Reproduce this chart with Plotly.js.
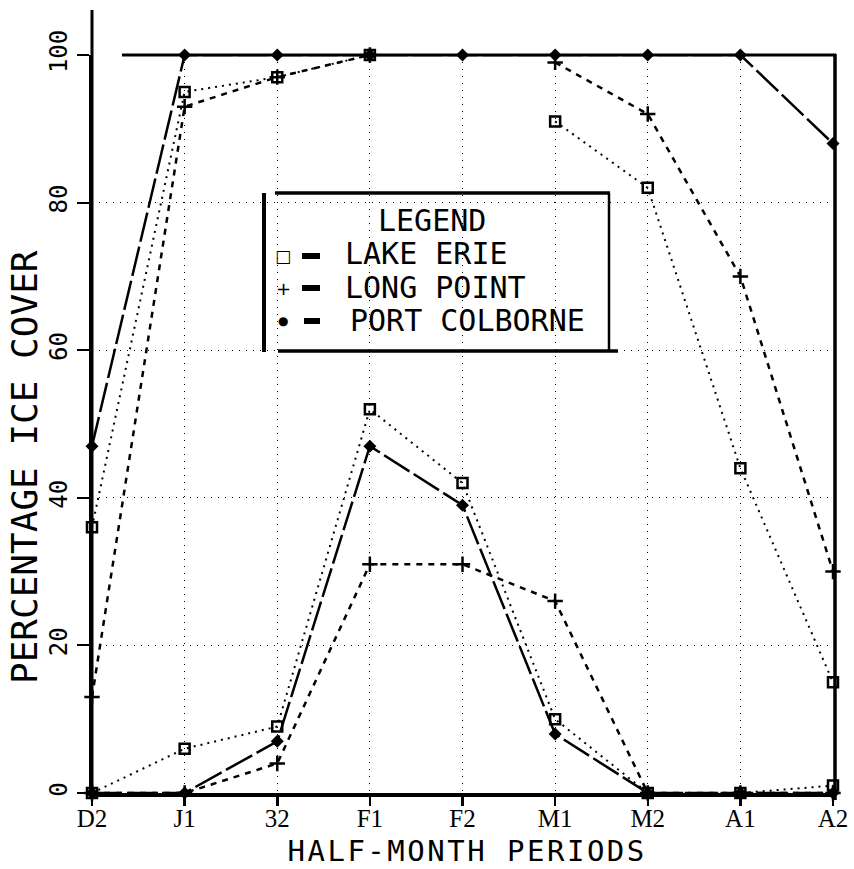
<!DOCTYPE html>
<html>
<head>
<meta charset="utf-8">
<script src="https://cdn.plot.ly/plotly-3.0.1.min.js"></script>
<style>
html,body{margin:0;padding:0;background:#fff;}
#chart{width:854px;height:869px;}
</style>
</head>
<body>
<div id="chart"></div>
<script>
// ---- data ----
const categories = ['D2', 'J1', '32', 'F1', 'F2', 'M1', 'M2', 'A1', 'A2'];
const yTickValues = [0, 20, 40, 60, 80, 100];
const yTickLabels = ['0', '20', '40', '60', '80', '100'];

// lower group of curves
const lakeErieLow     = [0, 6, 9, 52, 42, 10, 0, 0, 1];
const longPointLow    = [0, 0, 4, 31, 31, 26, 0, 0, 0];
const portColborneLow = [0, 0, 7, 47, 39, 8, 0, 0, 0];
// upper group of curves
const lakeErieHigh     = [36, 95, 97, 100, null, 91, 82, 44, 15];
const longPointHigh    = [13, 93, 97, 100, null, 99, 92, 70, 30];
const portColborneHigh = [47, 100, 100, 100, 100, 100, 100, 100, 88];

const seriesNames = ['LAKE ERIE', 'LONG POINT', 'PORT COLBORNE'];
const legendTitle = 'LEGEND';
const xTitle = 'HALF-MONTH PERIODS';
const yTitle = 'PERCENTAGE ICE COVER';

// ---- geometry helpers (pixel -> paper) ----
const W = 854, H = 869;
const M = {l: 92, r: 21, t: 55, b: 76};
const PW = W - M.l - M.r, PH = H - M.t - M.b;
const px = x => (x - M.l) / PW;
const py = y => (H - M.b - y) / PH;

const X = categories.map((_, i) => i);
const K = '#000';

const styles = {
  erie: {line: {color: K, width: 2, dash: '2px,5px'},
         marker: {symbol: 'square-open', size: 10, color: K, line: {width: 2.5, color: K}}},
  lp:   {line: {color: K, width: 2.5, dash: '6px,6px'},
         marker: {symbol: 'cross-thin-open', size: 11, color: K, line: {width: 2.5, color: K}}},
  pc:   {line: {color: K, width: 2.5, dash: '30px,5px'},
         marker: {symbol: 'diamond', size: 10, color: K}}
};

function tr(y, st, name) {
  return Object.assign({x: X, y: y, type: 'scatter', mode: 'lines+markers', name: name,
    connectgaps: false, cliponaxis: false, showlegend: false, hoverinfo: 'skip'},
    JSON.parse(JSON.stringify(st)));
}

const data = [
  tr(lakeErieLow, styles.erie, seriesNames[0]),
  tr(longPointLow, styles.lp, seriesNames[1]),
  tr(portColborneLow, styles.pc, seriesNames[2]),
  tr(lakeErieHigh, styles.erie, seriesNames[0]),
  tr(longPointHigh, styles.lp, seriesNames[1]),
  tr(portColborneHigh, styles.pc, seriesNames[2])
];

const mono = 'DejaVu Sans Mono';
function ln(x0, y0, x1, y1, w) {
  return {type: 'line', xref: 'paper', yref: 'paper', x0: px(x0), y0: py(y0), x1: px(x1), y1: py(y1),
          line: {color: K, width: w}, layer: 'above'};
}
function txt(t, x, y, size, anchor, fam) {
  return {text: t, xref: 'paper', yref: 'paper', x: px(x), y: py(y), showarrow: false,
          xanchor: anchor || 'center', yanchor: 'middle',
          font: {family: fam || mono, size: size, color: K}};
}

const shapes = [
  ln(122, 55, 836, 55, 3),      // top frame
  ln(835, 54, 835, 800, 3.5),   // right frame
  ln(92, 10, 92, 793, 3),       // left axis extension
  // legend box
  ln(264, 193, 264, 352, 4),
  ln(275, 193, 610, 193, 3.5),
  ln(609, 193, 609, 351, 2.5),
  ln(278, 351, 618, 351, 3.5),
  // legend bars
  ln(302, 256, 320, 256, 6),
  ln(302, 288, 320, 288, 6),
  ln(304, 321, 320, 321, 6)
];

const annotations = [
  txt(legendTitle, 432, 220, 30),
  txt('\u25A1', 283, 256, 17, 'center', 'DejaVu Sans'),
  txt('+', 283, 288, 18, 'center', 'DejaVu Sans'),
  txt('\u25CF', 283, 321, 12, 'center', 'DejaVu Sans'),
  txt(seriesNames[0], 343, 254, 30, 'left'),
  txt(seriesNames[1], 343, 287, 30, 'left'),
  txt(seriesNames[2], 348, 320, 30, 'left'),
  Object.assign(txt(yTitle, 25, 467, 36), {textangle: -90}),
  txt(xTitle, 467, 851, 29)
];

const layout = {
  width: W, height: H,
  margin: M,
  paper_bgcolor: '#fff', plot_bgcolor: '#fff',
  showlegend: false,
  xaxis: {
    range: [0, 8], tickmode: 'array', tickvals: X, ticktext: categories,
    ticks: 'outside', ticklen: 9, tickwidth: 2.5, tickcolor: K,
    ticklabelstandoff: -9,
    tickfont: {family: 'Liberation Serif', size: 25, color: K},
    showgrid: true, gridcolor: K, gridwidth: 1, griddash: '1px,6px',
    zeroline: false, showline: true, linewidth: 3.5, linecolor: K,
    fixedrange: true
  },
  yaxis: {
    range: [0, 100], tickmode: 'array', tickvals: yTickValues, ticktext: yTickLabels,
    tickangle: -90, ticks: 'outside', ticklen: 12, tickwidth: 2, tickcolor: K,
    tickfont: {family: mono, size: 24, color: K},
    showgrid: true, gridcolor: K, gridwidth: 1, griddash: '1px,6px',
    zeroline: false, showline: true, linewidth: 3, linecolor: K,
    fixedrange: true
  },
  shapes: shapes,
  annotations: annotations
};

Plotly.newPlot('chart', data, layout, {staticPlot: true, displayModeBar: false}).then(function (gd) {
  // widen the tracking of the x-axis title like the plotter lettering
  gd.querySelectorAll('text.annotation-text').forEach(function (t) {
    if (t.textContent === xTitle) {
      t.style.letterSpacing = '2.5px';
    }
  });
});
</script>
</body>
</html>
